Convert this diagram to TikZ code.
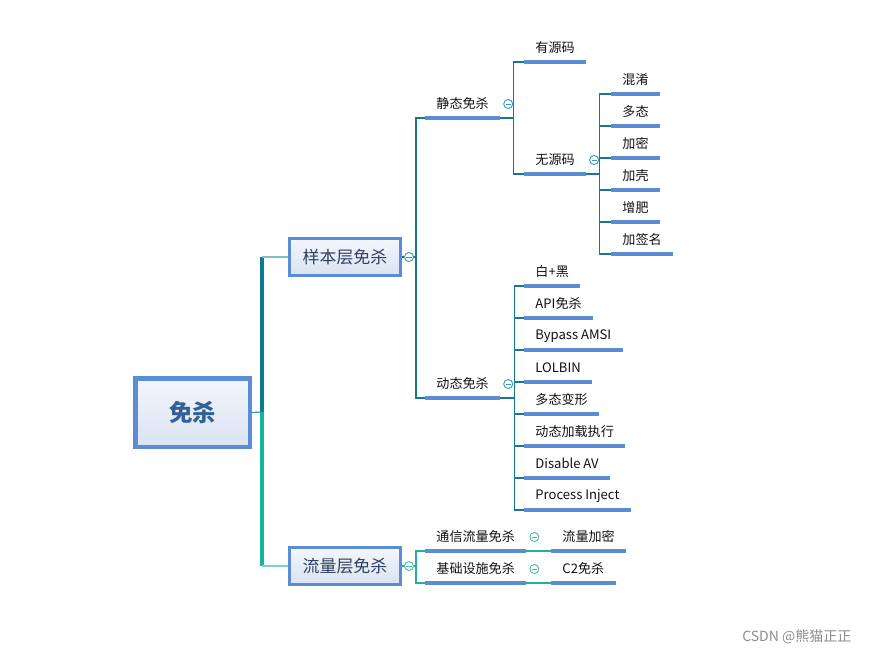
\documentclass[tikz,border=0pt]{standalone}
\usepackage{fontspec}
\setmainfont{Noto Sans CJK SC}
\usepackage{xcolor}
\usepackage{tikz}
\usetikzlibrary{positioning}
\definecolor{lineblue}{HTML}{5B8DD6}
\definecolor{boxtop}{HTML}{F3F6FC}
\definecolor{boxbot}{HTML}{DAE3F1}
\definecolor{rootblue}{HTML}{34609A}
\definecolor{boxtext}{HTML}{2E4160}
\definecolor{leaftext}{HTML}{111111}
\definecolor{tealdark}{HTML}{17788C}
\definecolor{tealgreen}{HTML}{2AAE9E}
\definecolor{trunkup}{HTML}{0A7A95}
\definecolor{trunkdown}{HTML}{13B5A0}
\definecolor{branchup}{HTML}{7DBECC}
\definecolor{branchdown}{HTML}{79D5C9}
\definecolor{foldup}{HTML}{3A9CB8}
\definecolor{folddown}{HTML}{40C2AE}
\definecolor{rootlink}{HTML}{4A84C8}

\begin{document}
\begin{tikzpicture}[x=0.75pt,y=-0.75pt,
		rootbox/.style={draw=lineblue,line width=3.4pt,top color=boxtop,bottom color=boxbot,minimum width=85.9pt,minimum height=51.4pt,font=\fontsize{17.6}{20}\selectfont\bfseries,text=rootblue},
		subbox/.style={draw=lineblue,line width=1.9pt,top color=boxtop,bottom color=boxbot,minimum width=83.6pt,minimum height=28.1pt,font=\fontsize{12.7}{15}\selectfont,text=boxtext},
		leaf/.style={anchor=south west,inner xsep=8.4pt,inner ysep=0pt,minimum height=21pt,font=\fontsize{9.8}{11}\selectfont,text=leaftext},
		uline/.style={draw=lineblue,line width=2.3pt},
		linkup/.style={draw=tealdark,line width=0.9pt},
		linkdown/.style={draw=tealgreen,line width=0.9pt},
		fold/.style={circle,draw=#1,fill=white,line width=0.7pt,minimum size=6.8pt,inner sep=0pt,
			path picture={\draw[#1,line width=0.7pt] ([xshift=1.5pt]path picture bounding box.west) -- ([xshift=-1.5pt]path picture bounding box.east);}}]
		\useasboundingbox (0,0) rectangle (870,656);
		% main boxes
		\node[rootbox] (root) at (192.5,412.5) {免杀};
		\node[subbox] (sample) at (345,257) {样本层免杀};
		\node[subbox] (traffic) at (345,566) {流量层免杀};
		% trunk
		\coordinate (trunk) at (262,412);
		\draw[rootlink,line width=0.9pt] (root.east) -- (trunk);
		\draw[trunkup,line width=3.4pt] (trunk) -- (trunk |- sample.west);
		\draw[trunkdown,line width=3.4pt] (trunk) -- (trunk |- traffic.west);
		\draw[branchup,line width=1.5pt] (trunk |- sample.west) -- (sample.west);
		\draw[branchdown,line width=1.5pt] (trunk |- traffic.west) -- (traffic.west);
		% leaves
		\node[leaf] (static) at (425,118) {静态免杀};
		\node[leaf] (dynamic) at (425,398) {动态免杀};
		\node[leaf] (withsrc) at (524,62) {有源码};
		\node[leaf] (nosrc) at (524,174) {无源码};
		\foreach \t [count=\i] in {混淆,多态,加密,加壳,增肥,加签名}
			\node[leaf] (ns\i) at (611,62+32*\i) {\t};
		\foreach \t [count=\i] in {白+黑,API免杀,Bypass AMSI,LOLBIN,多态变形,动态加载执行,Disable AV,Process Inject}
			\node[leaf] (dy\i) at (524,254+32*\i) {\t};
		\node[leaf] (comm) at (425,551) {通信流量免杀};
		\node[leaf] (infra) at (425,583) {基础设施免杀};
		\node[leaf] (enc) at (551,551) {流量加密};
		\node[leaf] (c2) at (551,583) {C2免杀};
		% connectors
		\foreach \n in {static,dynamic}
			\draw[linkup] (sample.east) -- ++(14,0) |- (\n.south west);
		\foreach \n in {withsrc,nosrc}
			\draw[linkup] (static.south east) -- ++(13,0) |- (\n.south west);
		\foreach \i in {1,...,6}
			\draw[linkup] (nosrc.south east) -- ++(13,0) |- (ns\i.south west);
		\foreach \i in {1,...,8}
			\draw[linkup] (dynamic.south east) -- ++(14,0) |- (dy\i.south west);
		\foreach \n in {comm,infra}
			\draw[linkdown] (traffic.east) -- ++(14,0) |- (\n.south west);
		\draw[linkdown] (comm.south east) -- (enc.south west);
		\draw[linkdown] (infra.south east) -- (c2.south west);
		% underlines
		\foreach \n in {static,dynamic,withsrc,nosrc,comm,infra,enc,c2}
			\draw[uline] (\n.south west) -- (\n.south east);
		\foreach \i in {1,...,6}
			\draw[uline] (ns\i.south west) -- (ns\i.south east);
		\foreach \i in {1,...,8}
			\draw[uline] (dy\i.south west) -- (dy\i.south east);
		% fold marks
		\node[fold=foldup] (fsample) at ([xshift=5.25pt]sample.east) {};
		\node[fold=foldup] (fstatic) at ([xshift=6pt,yshift=10.5pt]static.south east) {};
		\node[fold=foldup] (fnosrc) at ([xshift=6pt,yshift=10.5pt]nosrc.south east) {};
		\node[fold=foldup] (fdynamic) at ([xshift=6pt,yshift=10.5pt]dynamic.south east) {};
		\node[fold=folddown] (ftraffic) at ([xshift=5.25pt]traffic.east) {};
		\node[fold=folddown] (fcomm) at ([xshift=6pt,yshift=10.5pt]comm.south east) {};
		\node[fold=folddown] (finfra) at ([xshift=6pt,yshift=10.5pt]infra.south east) {};
		% watermark
		\node[anchor=east,text=black!45,font=\fontsize{10.5}{12}\selectfont] (mark) at (856,637) {CSDN @熊猫正正};
	\end{tikzpicture}
\end{document}
